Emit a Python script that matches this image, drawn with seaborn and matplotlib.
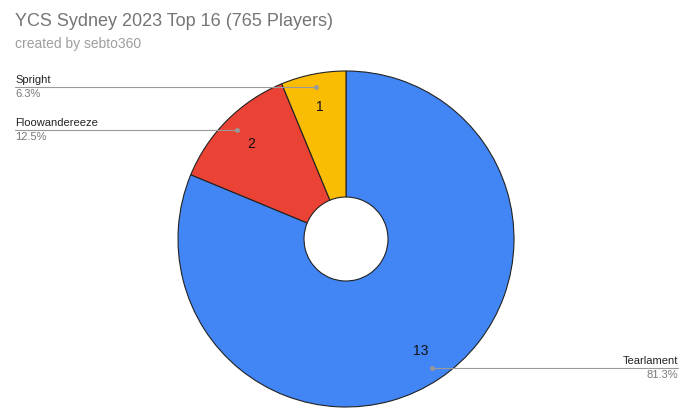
import numpy as np
import matplotlib
matplotlib.use("Agg")
import matplotlib.pyplot as plt
import seaborn as sns

categories = ["Tearlament", "Floowandereeze", "Spright"]
counts = [13, 2, 1]
percents = ["81.3%", "12.5%", "6.3%"]
colors = ["#4285F4", "#EA4335", "#FBBC04"]

sns.set_theme(style="white")
plt.rcParams['font.family'] = ['Liberation Sans', 'DejaVu Sans']

fig = plt.figure(figsize=(6.9, 4.18), dpi=100)
ax = fig.add_axes([0, 0, 1, 1])
ax.set_xlim(0, 690)
ax.set_ylim(0, 418)
ax.axis("off")

cx, cy, R = 346, 418 - 239, 168
wedges, texts = ax.pie(counts, colors=colors, startangle=90, counterclock=False,
                       center=(cx, cy), radius=R, frame=True,
                       wedgeprops=dict(edgecolor="#222222", linewidth=0.8,
                                       width=R - 42))
ax.set_xlim(0, 690)
ax.set_ylim(0, 418)
ax.set_aspect("equal")
ax.axis("off")

for w, c in zip(wedges, counts):
    a = np.deg2rad((w.theta1 + w.theta2) / 2)
    ax.text(cx + 0.8 * R * np.cos(a), cy + 0.8 * R * np.sin(a), str(c),
            ha="center", va="center", fontsize=10, color="#111111")

for w, name, pct in zip(wedges, categories, percents):
    a = np.deg2rad((w.theta1 + w.theta2) / 2)
    px, py = cx + 0.92 * R * np.cos(a), cy + 0.92 * R * np.sin(a)
    if np.cos(a) < 0:
        lx, ha = 15, "left"
    else:
        lx, ha = 678, "right"
    ax.plot([px, lx], [py, py], color="#999999", lw=0.8)
    ax.plot([px], [py], marker="o", ms=2.5, color="#999999")
    ax.text(lx, py + 2, name, ha=ha, va="bottom", fontsize=8, color="#222222")
    ax.text(lx, py - 2, pct, ha=ha, va="top", fontsize=8, color="#777777")

fig.text(15 / 690, 1 - 22 / 418, "YCS Sydney 2023 Top 16 (765 Players)",
         fontsize=13, color="#757575", va="center", ha="left")
fig.text(15 / 690, 1 - 44 / 418, "created by sebto360",
         fontsize=10, color="#9e9e9e", va="center", ha="left")

fig.savefig("out.png", dpi=100)
